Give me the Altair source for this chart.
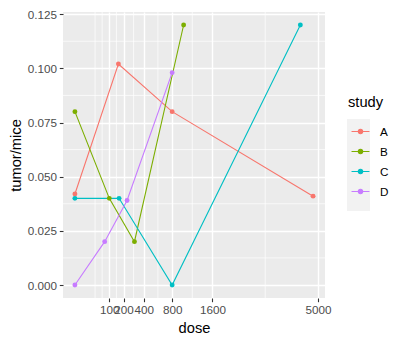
import math
import altair as alt
import pandas as pd

# ---- data ----
study = ["A"] * 4 + ["B"] * 4 + ["C"] * 4 + ["D"] * 4
dose = [0, 160, 800, 4800,
        0, 100, 300, 1000,
        0, 165, 800, 4300,
        0, 75, 230, 800]
ratio = [0.042, 0.102, 0.080, 0.041,
         0.080, 0.040, 0.020, 0.120,
         0.040, 0.040, 0.000, 0.120,
         0.000, 0.020, 0.039, 0.098]

studies = ["A", "B", "C", "D"]
colors = ["#F8766D", "#7CAE00", "#00BFC4", "#C77CFF"]

x_breaks = [100, 200, 400, 800, 1600, 5000]
y_breaks = [0, 0.025, 0.05, 0.075, 0.1, 0.125]

df = pd.DataFrame({"study": study, "dose": dose, "ratio": ratio})

# ggplot-like expansion (5%) in sqrt space
smax = math.sqrt(max(dose))
smin = math.sqrt(min(dose))
ext = 0.05 * (smax - smin)
lo_s, hi_s = smin - ext, smax + ext
x_dom = [-(lo_s ** 2) if lo_s < 0 else lo_s ** 2, hi_s ** 2]
yr = max(ratio) - min(ratio)
y_dom = [min(ratio) - 0.05 * yr, max(ratio) + 0.05 * yr]

# minor breaks (midpoints in transformed space, incl. extended break)
sb = [math.sqrt(b) for b in x_breaks]
ext_b = [sb[0] - (sb[1] - sb[0])] + sb + [sb[-1] + (sb[-1] - sb[-2])]
mins = []
for a, b in zip(ext_b[:-1], ext_b[1:]):
    mins += [a, (a + b) / 2]
mins.append(ext_b[-1])
x_minor = [m * m for m in mins if lo_s <= m <= hi_s and min(abs(m - s) for s in sb) > 1e-6]
y_minor = [b + 0.0125 for b in y_breaks if y_dom[0] <= b + 0.0125 <= y_dom[1]]
y_minor += [b - 0.0125 for b in y_breaks[:1] if y_dom[0] <= b - 0.0125]

FONT = "Liberation Sans"
xscale = alt.Scale(type="sqrt", domain=x_dom, zero=False, nice=False)
yscale = alt.Scale(domain=y_dom, zero=False, nice=False)

xaxis = alt.Axis(values=x_breaks, format="d", title="dose", grid=True,
                 gridColor="white", gridWidth=1.4, domain=False,
                 tickColor="#333333", tickSize=3.7, tickWidth=1.1,
                 labelColor="#4D4D4D", labelFontSize=11.7, labelPadding=2.9,
                 labelOverlap=False, labelFlush=False, labelBound=False,
                 titleFontSize=14.7, titleColor="black", titleFontWeight="normal",
                 titlePadding=3.7)
yaxis = alt.Axis(values=y_breaks, format=".3f", title="tumor/mice", grid=True,
                 gridColor="white", gridWidth=1.4, domain=False,
                 tickColor="#333333", tickSize=3.7, tickWidth=1.1,
                 labelColor="#4D4D4D", labelFontSize=11.7, labelPadding=2.9,
                 labelOverlap=False, labelFlush=False, labelBound=False,
                 titleFontSize=14.7, titleColor="black", titleFontWeight="normal",
                 titlePadding=3.7)

gx = pd.DataFrame({"v": x_minor})
gy = pd.DataFrame({"w": y_minor})

minor_x = alt.Chart(gx).mark_rule(color="white", strokeWidth=0.7).encode(
    x=alt.X("v:Q", scale=xscale, axis=xaxis))
minor_y = alt.Chart(gy).mark_rule(color="white", strokeWidth=0.7).encode(
    y=alt.Y("w:Q", scale=yscale, axis=yaxis))

sym = ("M-0.78,0L0.78,0M0.19,0A0.19,0.19,0,1,1,-0.19,0"
       "A0.19,0.19,0,1,1,0.19,0Z")
color_scale = alt.Scale(domain=studies, range=colors)
main_legend = alt.Legend(
    title="study", orient="none", legendX=285, legendY=83, padding=0,
    titleFontSize=14.7, titleColor="black", titleFontWeight="normal",
    titlePadding=9.3, labelFontSize=11.7, labelColor="black", labelOffset=7,
    symbolType=sym, symbolSize=529, symbolStrokeWidth=1.1, rowPadding=0,
    symbolOffset=0, zindex=2)

line = alt.Chart(df).mark_line(strokeWidth=1.1).encode(
    x=alt.X("dose:Q", scale=xscale, axis=xaxis),
    y=alt.Y("ratio:Q", scale=yscale, axis=yaxis),
    color=alt.Color("study:N", scale=color_scale, legend=main_legend),
)
pts = alt.Chart(df).mark_circle(size=24, opacity=1).encode(
    x=alt.X("dose:Q", scale=xscale, axis=xaxis),
    y=alt.Y("ratio:Q", scale=yscale, axis=yaxis),
    color=alt.Color("study:N", scale=color_scale, legend=main_legend),
    opacity=alt.Opacity("study:N", scale=alt.Scale(range=[1, 1]),
                        legend=alt.Legend(
                            title=" ", orient="right", offset=22, padding=0,
                            titleFontSize=10, titlePadding=97,
                            symbolType="square", symbolSize=529,
                            symbolFillColor="#F2F2F2", symbolStrokeWidth=0,
                            symbolOpacity=1, rowPadding=0, labelOpacity=0,
                            zindex=1)),
)

chart = alt.layer(minor_x, minor_y, line, pts).properties(
    width=262, height=286,
    autosize=alt.AutoSizeParams(type="none"),
    padding={"left": 55, "top": 4, "right": 69, "bottom": 38},
).configure(font=FONT).configure_view(fill="#EBEBEB", stroke=None)

chart.save("out.html", embed_options={"renderer": "svg", "actions": False})
